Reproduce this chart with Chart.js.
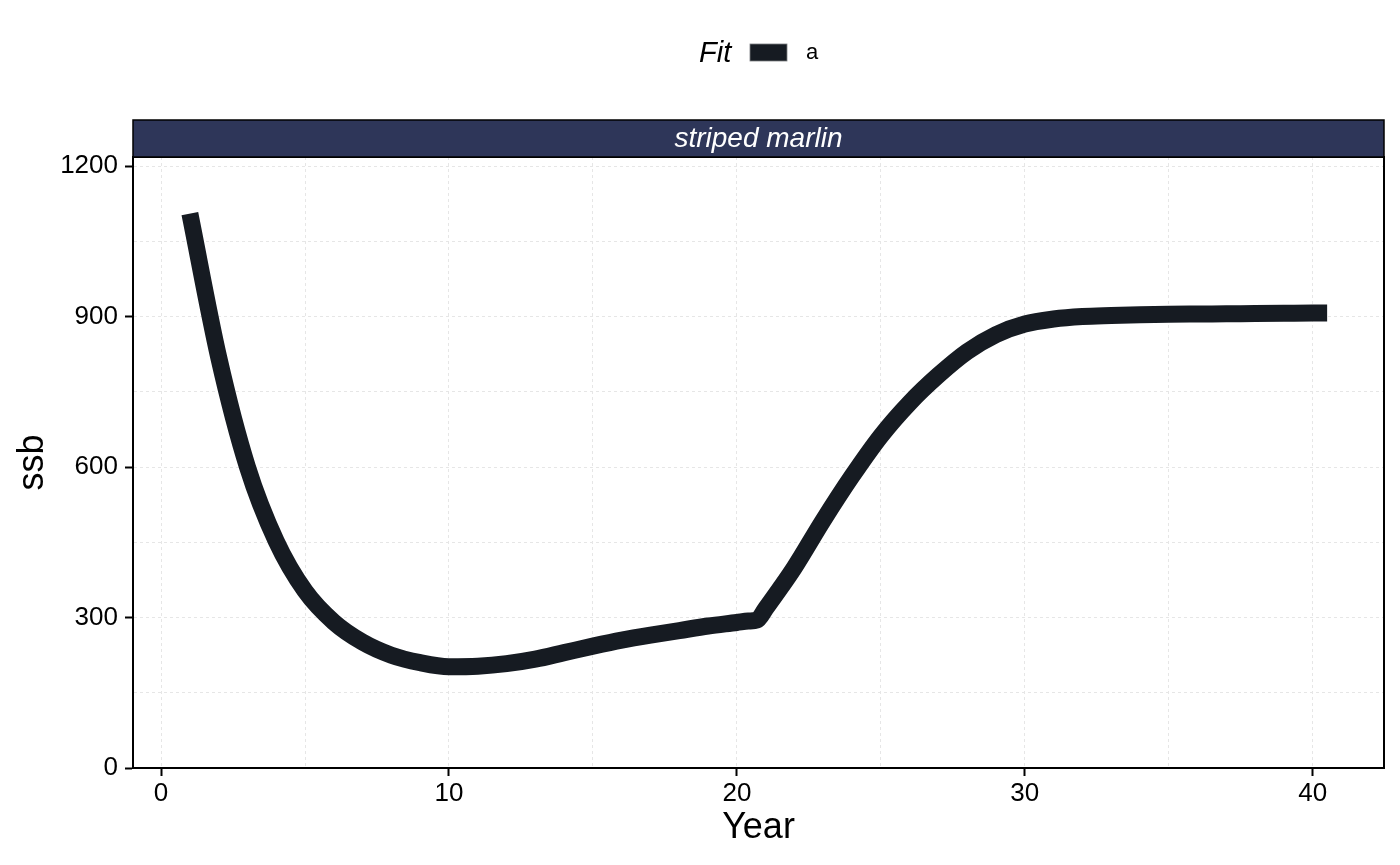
<!DOCTYPE html>
<html>
<head>
<meta charset="utf-8">
<script src="https://cdn.jsdelivr.net/npm/chart.js@4.4.1/dist/chart.umd.min.js"></script>
<style>
  html, body { margin: 0; padding: 0; background: #ffffff; }
  #wrap { width: 1400px; height: 865px; position: relative; }
</style>
</head>
<body>
<div id="wrap"><canvas id="c" width="1400" height="865"></canvas></div>
<script>
// ---- data ----
const seriesName = "a";
const legendTitle = "Fit";
const panelTitle = "striped marlin";
const years = [1, 2, 3, 4, 5, 6, 7, 8, 9, 10, 11, 12, 13, 14, 15, 16, 17, 18, 19, 20, 20.4, 20.7, 21, 21.5, 22, 23, 24, 25, 26, 27, 28, 29, 30, 31, 32, 33, 34, 35, 36, 37, 38, 39, 40, 40.5];
const ssb   = [1105, 819, 600, 452, 353, 291, 251, 225, 210, 202, 203, 208, 217, 230, 243, 255, 265, 274, 283, 290, 293, 295, 318, 358, 400, 494, 582, 662, 728, 783, 830, 864, 885, 895, 900, 902, 903.5, 904.5, 905, 905.5, 906, 906.5, 907, 907];
const xTicks = [0, 5, 10, 15, 20, 25, 30, 35, 40];
const xMajor = [0, 10, 20, 30, 40];
const yTicks = [0, 150, 300, 450, 600, 750, 900, 1050, 1200];
const yMajor = [0, 300, 600, 900, 1200];

const lineColor = '#161b22';
const gridColor = '#e6e6e6';
const FONT = "'Liberation Sans', Arial, Helvetica, sans-serif";

const points = years.map((y, i) => ({ x: y, y: ssb[i] }));

const panelDeco = {
  id: 'panelDeco',
  afterDraw(chart) {
    const { ctx, chartArea: a } = chart;
    ctx.save();
    ctx.strokeStyle = '#000';
    ctx.lineWidth = 2;
    ctx.beginPath();
    ctx.moveTo(a.left, a.top);
    ctx.lineTo(a.right, a.top);
    ctx.lineTo(a.right, a.bottom);
    ctx.stroke();
    // strip
    const sTop = 120, sBot = a.top;
    ctx.fillStyle = '#2e3659';
    ctx.fillRect(a.left, sTop, a.right - a.left, sBot - sTop);
    ctx.lineWidth = 1.5;
    ctx.strokeStyle = '#000';
    ctx.strokeRect(a.left, sTop, a.right - a.left, sBot - sTop);
    ctx.fillStyle = '#ffffff';
    ctx.font = "italic 28px " + FONT;
    ctx.textAlign = 'center';
    ctx.textBaseline = 'middle';
    ctx.fillText(panelTitle, (a.left + a.right) / 2, (sTop + sBot) / 2 + 1);
    // legend
    const ds = chart.data.datasets[0];
    ctx.fillStyle = '#000';
    ctx.font = "italic 29px " + FONT;
    ctx.textAlign = 'left';
    ctx.fillText(legendTitle, 699, 54);
    ctx.fillStyle = ds.borderColor;
    ctx.fillRect(750, 44, 37, 17);
    ctx.strokeStyle = '#7a7d80';
    ctx.lineWidth = 0.8;
    ctx.strokeRect(750, 44, 37, 17);
    ctx.fillStyle = '#000';
    ctx.font = "22px " + FONT;
    ctx.fillText(ds.label, 806, 53);
    ctx.restore();
  }
};

new Chart(document.getElementById('c'), {
  type: 'line',
  data: {
    datasets: [{
      label: seriesName,
      data: points,
      borderColor: lineColor,
      backgroundColor: lineColor,
      borderWidth: 17,
      borderCapStyle: 'butt',
      borderJoinStyle: 'miter',
      cubicInterpolationMode: 'monotone',
      pointRadius: 0,
      pointHoverRadius: 0,
      fill: false
    }]
  },
  options: {
    responsive: false,
    animation: false,
    devicePixelRatio: 1,
    layout: { padding: { top: 157, right: 16, left: 0, bottom: 0 } },
    plugins: { legend: { display: false }, tooltip: { enabled: false } },
    scales: {
      x: {
        type: 'linear',
        min: -0.975,
        max: 42.475,
        afterFit(s) { s.height = 97; },
        afterBuildTicks(s) { s.ticks = xTicks.map(v => ({ value: v })); },
        ticks: {
          autoSkip: false,
          maxRotation: 0,
          color: '#000',
          font: { size: 26, family: FONT },
          padding: 2,
          callback: (v) => xMajor.includes(v) ? String(v) : ''
        },
        grid: {
          color: gridColor,
          lineWidth: 1,
          tickLength: 8,
          tickWidth: 2,
          tickColor: (c) => (c.tick && xMajor.includes(c.tick.value)) ? '#000' : 'rgba(0,0,0,0)'
        },
        border: { display: true, color: '#000', width: 2, dash: [3, 3] },
        title: {
          display: true,
          text: 'Year',
          color: '#000',
          font: { size: 36, family: FONT },
          padding: { top: 0, bottom: 15 }
        }
      },
      y: {
        type: 'linear',
        min: 0,
        max: 1218,
        afterFit(s) { s.width = 133; },
        afterBuildTicks(s) { s.ticks = yTicks.map(v => ({ value: v })); },
        ticks: {
          autoSkip: false,
          color: '#000',
          font: { size: 26, family: FONT },
          padding: 7,
          callback: (v) => yMajor.includes(v) ? String(v) : ''
        },
        grid: {
          color: gridColor,
          lineWidth: 1,
          tickLength: 8,
          tickWidth: 2,
          tickColor: (c) => (c.tick && yMajor.includes(c.tick.value)) ? '#000' : 'rgba(0,0,0,0)'
        },
        border: { display: true, color: '#000', width: 2, dash: [3, 3] },
        title: {
          display: true,
          text: 'ssb',
          color: '#000',
          font: { size: 36, family: FONT },
          padding: { top: 11, bottom: 0 }
        }
      }
    }
  },
  plugins: [panelDeco]
});
</script>
</body>
</html>
